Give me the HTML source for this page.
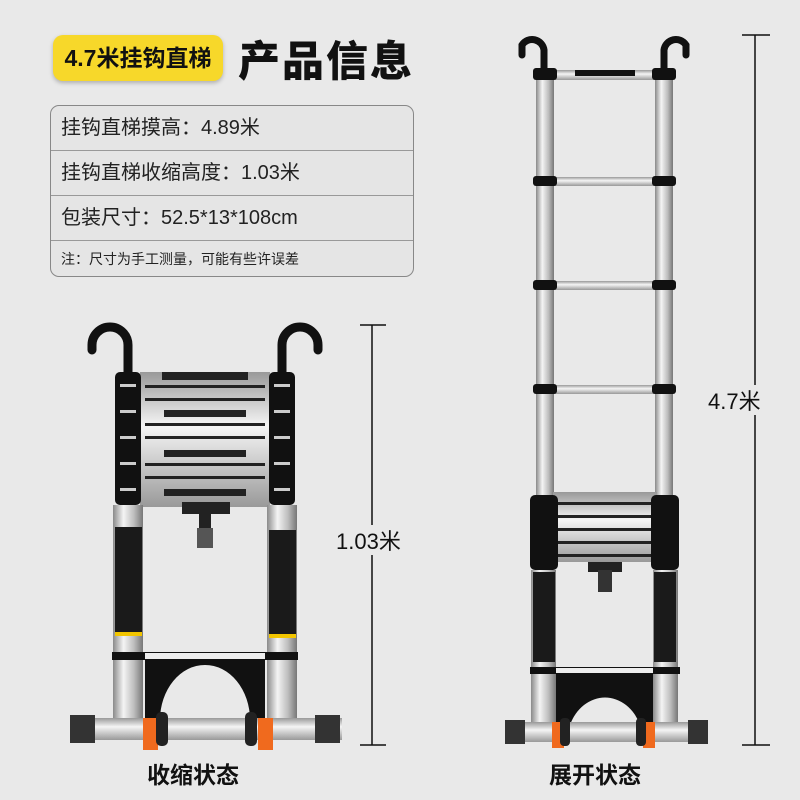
<!DOCTYPE html>
<html><head><meta charset="utf-8"><style>
body{margin:0;width:800px;height:800px;background:#e9e9e9;overflow:hidden;position:relative;font-family:"Liberation Sans","Noto Sans CJK SC",sans-serif}
.tag{position:absolute;left:53px;top:35px;width:170px;height:46px;background:#f7d82a;border-radius:10px;box-shadow:0 2px 4px rgba(0,0,0,.25);font-size:23px;font-weight:bold;line-height:46px;text-align:center;color:#111}
.title{position:absolute;left:238px;top:28px;font-size:42px;font-weight:900;color:#111;letter-spacing:2px}
.box{position:absolute;left:50px;top:105px;width:362px;height:170px;border:1px solid #888;border-radius:9px;background:#e5e5e5;overflow:hidden}
.row{height:44px;border-bottom:1px solid #999;font-size:20px;line-height:44px;padding-left:10px;color:#222}
.row.s{border:none;font-size:14px;line-height:36px}
.lab{position:absolute;font-size:23px;font-weight:bold;color:#111}
</style></head><body>
<div class="tag">4.7米挂钩直梯</div>
<div class="title">产品信息</div>
<div class="box">
<div class="row">挂钩直梯摸高：4.89米</div>
<div class="row">挂钩直梯收缩高度：1.03米</div>
<div class="row">包装尺寸：52.5*13*108cm</div>
<div class="row s">注：尺寸为手工测量，可能有些许误差</div>
</div>
<svg width="800" height="800" style="position:absolute;left:0;top:0">
<defs>
<linearGradient id="al" x1="0" x2="1"><stop offset="0" stop-color="#8a8a8a"/><stop offset=".35" stop-color="#f4f4f4"/><stop offset=".7" stop-color="#bdbdbd"/><stop offset="1" stop-color="#777"/></linearGradient>
<linearGradient id="ah" y1="0" y2="1" x1="0" x2="0"><stop offset="0" stop-color="#999"/><stop offset=".4" stop-color="#f5f5f5"/><stop offset="1" stop-color="#999"/></linearGradient>
</defs>
<g stroke="#111" stroke-width="1.5">
<line x1="372" y1="325" x2="372" y2="745"/><line x1="360" y1="325" x2="386" y2="325"/><line x1="360" y1="745" x2="386" y2="745"/>
<line x1="755" y1="35" x2="755" y2="745"/><line x1="742" y1="35" x2="770" y2="35"/><line x1="742" y1="745" x2="770" y2="745"/>
</g>
<rect x="330" y="525" width="80" height="30" fill="#e9e9e9"/>
<rect x="710" y="385" width="70" height="30" fill="#e9e9e9"/>
<text x="336" y="549" font-size="22" fill="#111" font-family="Liberation Sans,Noto Sans CJK SC,sans-serif">1.03米</text>
<text x="708" y="409" font-size="22" fill="#111" font-family="Liberation Sans,Noto Sans CJK SC,sans-serif">4.7米</text>

<g>
<path d="M128 375 V345 A18 18 0 0 0 92 345 V350" fill="none" stroke="#111" stroke-width="9" stroke-linecap="round"/>
<path d="M282 375 V345 A18 18 0 0 1 318 345 V350" fill="none" stroke="#111" stroke-width="9" stroke-linecap="round"/>
<rect x="140" y="372" width="130" height="135" fill="url(#ah)"/>
<g fill="#222">
<rect x="162" y="372" width="86" height="8"/><rect x="164" y="410" width="82" height="7"/><rect x="164" y="450" width="82" height="7"/><rect x="164" y="489" width="82" height="7"/>
<rect x="145" y="385" width="120" height="3"/><rect x="145" y="398" width="120" height="3"/><rect x="145" y="423" width="120" height="3"/><rect x="145" y="436" width="120" height="3"/><rect x="145" y="463" width="120" height="3"/><rect x="145" y="476" width="120" height="3"/>
</g>
<rect x="182" y="502" width="48" height="12" fill="#222"/><rect x="199" y="512" width="12" height="20" fill="#222"/><rect x="197" y="528" width="16" height="20" fill="#555"/>
<rect x="113" y="505" width="30" height="225" fill="url(#al)"/>
<rect x="267" y="505" width="30" height="225" fill="url(#al)"/>
<g fill="#111">
<rect x="115" y="372" width="26" height="133" rx="5"/><rect x="269" y="372" width="26" height="133" rx="5"/>
</g>
<g fill="#ccc"><rect x="120" y="384" width="16" height="3"/><rect x="120" y="410" width="16" height="3"/><rect x="120" y="436" width="16" height="3"/><rect x="120" y="462" width="16" height="3"/><rect x="120" y="488" width="16" height="3"/>
<rect x="274" y="384" width="16" height="3"/><rect x="274" y="410" width="16" height="3"/><rect x="274" y="436" width="16" height="3"/><rect x="274" y="462" width="16" height="3"/><rect x="274" y="488" width="16" height="3"/></g>
<rect x="115" y="527" width="27" height="108" fill="#1a1a1a"/><rect x="269" y="530" width="27" height="108" fill="#1a1a1a"/>
<rect x="115" y="632" width="27" height="4" fill="#f2c500"/><rect x="269" y="634" width="27" height="4" fill="#f2c500"/>
<rect x="112" y="652" width="186" height="8" fill="#111"/>
<rect x="145" y="653" width="120" height="6" fill="#eee"/>
<path d="M145 660 H265 V720 H250 A45 55 0 0 0 160 720 H145Z" fill="#111"/>
<rect x="70" y="718" width="272" height="22" fill="url(#ah)"/>
<rect x="70" y="715" width="25" height="28" fill="#333"/><rect x="315" y="715" width="25" height="28" fill="#333"/>
<rect x="143" y="718" width="15" height="32" fill="#f06a1e"/><rect x="258" y="718" width="15" height="32" fill="#f06a1e"/>
<rect x="156" y="712" width="12" height="34" rx="5" fill="#222"/><rect x="245" y="712" width="12" height="34" rx="5" fill="#222"/>
</g>

<g>
<path d="M544 70 V50 A12 12 0 0 0 522 45 V55" fill="none" stroke="#111" stroke-width="7" stroke-linecap="round"/>
<path d="M664 70 V50 A12 12 0 0 1 686 45 V55" fill="none" stroke="#111" stroke-width="7" stroke-linecap="round"/>
<rect x="536" y="68" width="18" height="430" fill="url(#al)"/>
<rect x="655" y="68" width="18" height="430" fill="url(#al)"/>
<g fill="url(#ah)"><rect x="554" y="70" width="101" height="10"/><rect x="554" y="177" width="101" height="9"/><rect x="554" y="281" width="101" height="9"/><rect x="554" y="385" width="101" height="9"/></g>
<g fill="#111"><rect x="533" y="68" width="24" height="12" rx="3"/><rect x="652" y="68" width="24" height="12" rx="3"/>
<rect x="533" y="176" width="24" height="10" rx="3"/><rect x="652" y="176" width="24" height="10" rx="3"/>
<rect x="533" y="280" width="24" height="10" rx="3"/><rect x="652" y="280" width="24" height="10" rx="3"/>
<rect x="533" y="384" width="24" height="10" rx="3"/><rect x="652" y="384" width="24" height="10" rx="3"/>
<rect x="575" y="70" width="60" height="6"/></g>
<rect x="553" y="492" width="104" height="70" fill="url(#ah)"/>
<g fill="#222"><rect x="553" y="502" width="104" height="3"/><rect x="553" y="515" width="104" height="3"/><rect x="553" y="528" width="104" height="3"/><rect x="553" y="541" width="104" height="3"/><rect x="553" y="554" width="104" height="3"/></g>
<rect x="588" y="562" width="34" height="10" fill="#222"/><rect x="598" y="570" width="14" height="22" fill="#333"/>
<rect x="530" y="495" width="28" height="75" rx="5" fill="#111"/><rect x="651" y="495" width="28" height="75" rx="5" fill="#111"/>
<rect x="531" y="570" width="25" height="165" fill="url(#al)"/><rect x="653" y="570" width="25" height="165" fill="url(#al)"/>
<rect x="533" y="572" width="22" height="90" fill="#1a1a1a"/><rect x="654" y="572" width="22" height="90" fill="#1a1a1a"/>
<rect x="530" y="667" width="150" height="7" fill="#111"/>
<rect x="556" y="668" width="97" height="5" fill="#eee"/>
<path d="M556 674 H653 V725 H640 A38 45 0 0 0 570 725 H556Z" fill="#111"/>
<rect x="505" y="722" width="203" height="20" fill="url(#ah)"/>
<rect x="505" y="720" width="20" height="24" fill="#333"/><rect x="688" y="720" width="20" height="24" fill="#333"/>
<rect x="552" y="722" width="12" height="26" fill="#f06a1e"/><rect x="643" y="722" width="12" height="26" fill="#f06a1e"/>
<rect x="560" y="718" width="10" height="28" rx="4" fill="#222"/><rect x="636" y="718" width="10" height="28" rx="4" fill="#222"/>
</g>
</svg>
<div class="lab" style="left:147px;top:756px">收缩状态</div>
<div class="lab" style="left:549px;top:756px">展开状态</div>
</body></html>
